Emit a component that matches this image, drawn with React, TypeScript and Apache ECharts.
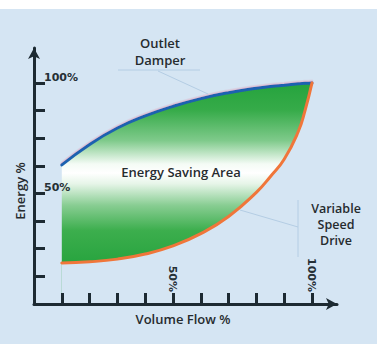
import React, { useEffect, useRef } from "react";
import * as echarts from "echarts";

// Volume flow (%) at which curves are sampled
const flowPct = [10, 20, 30, 40, 50, 60, 70, 80, 85, 90, 95, 97.5, 100];
// Energy (%) for the Outlet Damper curve (blue)
const outletDamper = [62.9, 72.2, 79.6, 85.1, 89.4, 92.9, 95.6, 97.6, 98.4, 99.0, 99.6, 99.85, 100];
// Energy (%) for the Variable Speed Drive curve (orange)
const variableSpeedDrive = [18.6, 19.1, 20.3, 22.6, 26.3, 31.8, 39.6, 50.5, 57.6, 65.5, 77.8, 87.5, 100];
// Tick positions and labels
const xTicks = [10, 20, 30, 40, 50, 60, 70, 80, 90, 100];
const yTicks = [12.5, 25, 37.5, 50, 62.5, 75, 87.5, 100];
const xTickLabels = [50, 100];
const yTickLabels = [50, 100];

const BG = "#d5e5f3";
const AXIS = "#1d2a32";
const TXT = "#262b2e";
const LEAD = "#b4cde4";
const FONT = "'Open Sans', sans-serif";

export default function App() {
  const ref = useRef<HTMLDivElement>(null);
  useEffect(() => {
    if (!ref.current) return;
    const chart = echarts.init(ref.current, undefined, { renderer: "svg" });
    const vsdPts = flowPct.map((x, i) => [x, variableSpeedDrive[i]]);
    const odPts = flowPct.map((x, i) => [x, outletDamper[i]]);
    const textLine = (text: string, x: number, y: number, size = 13) => ({
      type: "text",
      z: 10,
      x,
      y,
      style: {
        text,
        align: "center",
        verticalAlign: "middle",
        font: `600 ${size}px ${FONT}`,
        fill: TXT,
      },
    });
    chart.setOption({
      animation: false,
      backgroundColor: "transparent",
      grid: { left: 34, right: 40, top: 48, bottom: 40, containLabel: false },
      xAxis: {
        type: "value",
        min: 0,
        max: 109,
        z: 10,
        splitLine: { show: false },
        name: "Volume Flow %",
        nameLocation: "middle",
        nameGap: 8,
        nameTextStyle: {
          fontFamily: FONT,
          fontWeight: 600,
          fontSize: 13,
          color: TXT,
          verticalAlign: "top",
          padding: [0, 5, 0, 0],
        },
        axisLine: {
          lineStyle: { color: AXIS, width: 3 },
          symbol: ["none", "arrow"],
          symbolSize: [9, 11],
        },
        axisTick: {
          show: true,
          inside: true,
          length: 11,
          customValues: xTicks,
          lineStyle: { color: AXIS, width: 3 },
        },
        axisLabel: {
          show: true,
          inside: true,
          rotate: -90,
          margin: 12,
          customValues: xTickLabels,
          formatter: (v: number) => v + "%",
          fontFamily: "'DejaVu Sans', sans-serif",
          fontWeight: "bold",
          fontSize: 11,
          color: "#263036",
        },
      },
      yAxis: {
        type: "value",
        min: 0,
        max: 115.8,
        z: 10,
        splitLine: { show: false },
        name: "Energy %",
        nameLocation: "middle",
        nameRotate: 90,
        nameGap: 6,
        nameTextStyle: {
          fontFamily: FONT,
          fontWeight: 600,
          fontSize: 13,
          color: TXT,
          padding: [0, 30, 0, 0],
        },
        axisLine: {
          show: true,
          lineStyle: { color: AXIS, width: 3 },
          symbol: ["none", "arrow"],
          symbolSize: [9, 11],
        },
        axisTick: {
          show: true,
          inside: true,
          length: 11,
          customValues: yTicks,
          lineStyle: { color: AXIS, width: 3 },
        },
        axisLabel: {
          show: true,
          inside: true,
          margin: 10,
          customValues: yTickLabels,
          formatter: (v: number) => v + "%",
          verticalAlign: "bottom",
          fontFamily: "'DejaVu Sans', sans-serif",
          fontWeight: "bold",
          fontSize: 11,
          color: "#263036",
        },
      },
      series: [
        {
          name: "Outlet Damper",
          type: "line",
          smooth: 0.5,
          showSymbol: false,
          z: 2,
          data: odPts,
          lineStyle: {
            color: "#1d62b0",
            width: 3,
            cap: "round",
            shadowColor: "rgba(225,130,160,0.35)",
            shadowBlur: 1.5,
            shadowOffsetY: -1.5,
          },
          areaStyle: {
            opacity: 1,
            origin: "start",
            color: new echarts.graphic.LinearGradient(0, 83, 0, 263, [
              { offset: 0, color: "#25a33d" },
              { offset: 0.15, color: "#36ab49" },
              { offset: 0.32, color: "#7fca8b" },
              { offset: 0.45, color: "#f4fbf5" },
              { offset: 0.5, color: "#ffffff" },
              { offset: 0.56, color: "#e6f5e8" },
              { offset: 0.68, color: "#88cd92" },
              { offset: 0.82, color: "#3cae4d" },
              { offset: 1, color: "#28a43f" },
            ], true),
          },
        },
        {
          name: "Variable Speed Drive",
          type: "line",
          smooth: 0.5,
          showSymbol: false,
          z: 3,
          data: vsdPts,
          lineStyle: { color: "#f0763a", width: 3, cap: "round" },
          areaStyle: { opacity: 1, origin: "start", color: BG },
        },
      ],
      graphic: [
        { type: "line", z: 20, shape: { x1: 118, y1: 70, x2: 200, y2: 70 }, style: { stroke: LEAD, lineWidth: 1 } },
        { type: "line", z: 20, shape: { x1: 158, y1: 71, x2: 208, y2: 94 }, style: { stroke: LEAD, lineWidth: 1 } },
        { type: "line", z: 20, shape: { x1: 298, y1: 200, x2: 298, y2: 257 }, style: { stroke: LEAD, lineWidth: 1 } },
        { type: "line", z: 20, shape: { x1: 240, y1: 210, x2: 298, y2: 227 }, style: { stroke: LEAD, lineWidth: 1 } },
        textLine("Outlet", 160, 43),
        textLine("Damper", 160, 60),
        textLine("Energy Saving Area", 181, 172),
        textLine("Variable", 336, 208, 12.5),
        textLine("Speed", 336, 224, 12.5),
        textLine("Drive", 336, 240, 12.5),
      ],
    });
    return () => chart.dispose();
  }, []);
  return (
    <div
      style={{
        position: "fixed",
        left: 0,
        top: 0,
        width: 377,
        height: 344,
        background: `linear-gradient(#ffffff 0px, #ffffff 9px, ${BG} 9px)`,
      }}
    >
      <div ref={ref} style={{ width: 377, height: 344 }} />
    </div>
  );
}
